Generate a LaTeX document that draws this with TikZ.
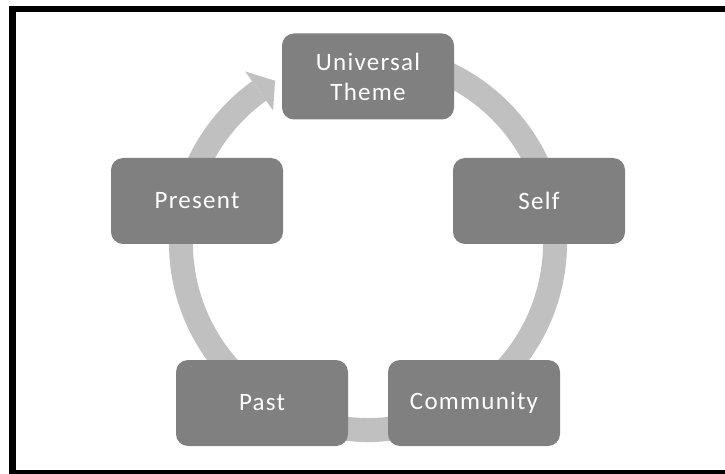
\documentclass[tikz,border=0pt]{standalone}
\usepackage{fontspec}
\setmainfont{Carlito}[LetterSpace=5]
\definecolor{boxgray}{RGB}{128,128,128}
\definecolor{ringgray}{RGB}{192,192,192}
\begin{document}
\begin{tikzpicture}[x=0.75pt,y=-0.75pt,
  stagebox/.style={draw=none, fill=boxgray, rounded corners=9pt,
    minimum width=129pt, minimum height=64.5pt, text=white,
    font=\fontsize{18.75pt}{22.5pt}\selectfont, align=center, inner sep=0pt},
  ringline/.style={draw=ringgray, line width=18pt},
  ringhead/.style={fill=ringgray}]
\useasboundingbox (0,0) rectangle (725,474);
\begin{scope}
  \clip (0,0) rectangle (725,474);
  \draw[line width=4.9pt] (12.5,9) rectangle (745,473);
\end{scope}
% cycle ring with arrow head
\begin{scope}[shift={(368,243)}, yscale=-1]
  \draw[ringline] (80:187) arc[start angle=80, end angle=-234.4, radius=187];
  \fill[ringhead] (125.6:163) -- (125.6:211) -- (119.8:187) -- cycle;
\end{scope}
\node[stagebox] (univ) at (368,76.5) {Universal\\Theme};
\node[stagebox] (self) at (539,201) {Self};
\node[stagebox] (present) at (197,201) {Present};
\node[stagebox] (past) at (262,403) {Past};
\node[stagebox] (comm) at (474,403) {Community};
\end{tikzpicture}
\end{document}
